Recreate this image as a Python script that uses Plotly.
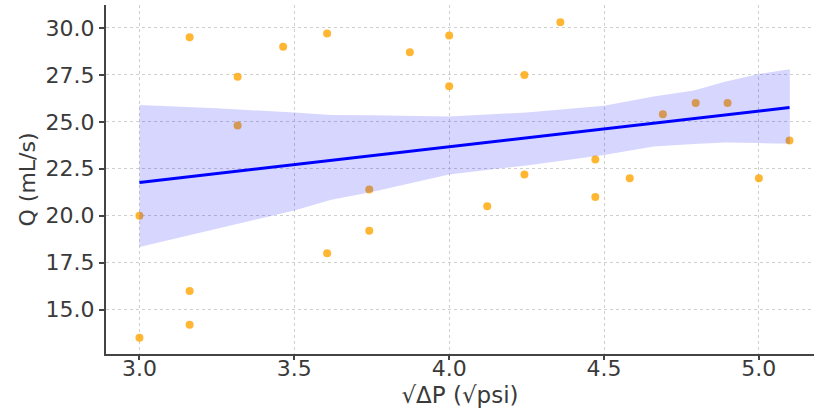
import plotly.graph_objects as go

# Data
x_vals = [3.0, 3.0, 3.162, 3.162, 3.162, 3.317, 3.317, 3.464, 3.606, 3.606,
          3.742, 3.742, 3.873, 4.0, 4.0, 4.123, 4.243, 4.243, 4.359, 4.472,
          4.472, 4.583, 4.690, 4.796, 4.899, 5.0, 5.099]
q_vals = [20.0, 13.5, 29.5, 16.0, 14.2, 27.4, 24.8, 29.0, 29.7, 18.0,
          21.4, 19.2, 28.7, 29.6, 26.9, 20.5, 27.5, 22.2, 30.3, 23.0,
          21.0, 22.0, 25.4, 26.0, 26.0, 22.0, 24.0]

fit_x = [3.0, 5.099]
fit_y = [21.77, 25.76]

band_x = [3.0, 3.25, 3.5, 3.62, 3.75, 4.0, 4.25, 4.5, 4.66, 4.79, 4.89, 5.0, 5.1]
band_upper = [25.89, 25.72, 25.5, 25.37, 25.35, 25.28, 25.5, 25.85, 26.35, 26.67, 27.14, 27.55, 27.8]
band_lower = [18.34, 19.31, 20.28, 20.85, 21.27, 22.2, 22.68, 23.24, 23.69, 23.82, 23.9, 23.87, 23.83]

x_ticks = [3.0, 3.5, 4.0, 4.5, 5.0]
y_ticks = [15.0, 17.5, 20.0, 22.5, 25.0, 27.5, 30.0]

fig = go.Figure()
fig.add_trace(go.Scatter(
    x=x_vals, y=q_vals, mode="markers",
    marker=dict(color="rgba(255,165,0,0.8)", size=8, line=dict(width=0)),
    showlegend=False, hoverinfo="x+y"))
fig.add_trace(go.Scatter(
    x=band_x + band_x[::-1], y=band_upper + band_lower[::-1],
    fill="toself", fillcolor="rgba(0,0,255,0.16)", mode="lines",
    line=dict(width=0), showlegend=False, hoverinfo="skip"))
fig.add_trace(go.Scatter(
    x=fit_x, y=fit_y, mode="lines", line=dict(color="#0000ff", width=3),
    showlegend=False))

font_color = "#3a3a3a"
fig.update_layout(
    width=814, height=410,
    margin=dict(l=106, r=0, t=5, b=56, autoexpand=False),
    paper_bgcolor="white", plot_bgcolor="white",
    font=dict(family="DejaVu Sans", color=font_color, size=20),
    xaxis=dict(
        range=[2.892, 5.178], tickvals=x_ticks, ticktext=[f"{v:.1f}" for v in x_ticks],
        showgrid=True, gridcolor="#cfcfcf", griddash="3px,3px", gridwidth=1,
        showline=True, linecolor="#444444", linewidth=2,
        ticks="outside", ticklen=4, tickwidth=1.5, tickcolor="#444444",
        ticklabelstandoff=-10, automargin=True,
        zeroline=False, tickfont=dict(size=22),
        title=dict(text="√ΔP (√psi)", font=dict(size=23), standoff=6)),
    yaxis=dict(
        range=[12.64, 31.22], tickvals=y_ticks, ticktext=[f"{v:.1f}" for v in y_ticks],
        showgrid=True, gridcolor="#cfcfcf", griddash="3px,3px", gridwidth=1,
        showline=True, linecolor="#444444", linewidth=2,
        ticks="outside", ticklen=5, tickwidth=1.5, tickcolor="#444444",
        zeroline=False, tickfont=dict(size=22),
        title=dict(text="Q (mL/s)", font=dict(size=22), standoff=4)),
)

fig.write_html("out.html", config={"displayModeBar": False},
               post_script="document.body.style.margin='0';")
